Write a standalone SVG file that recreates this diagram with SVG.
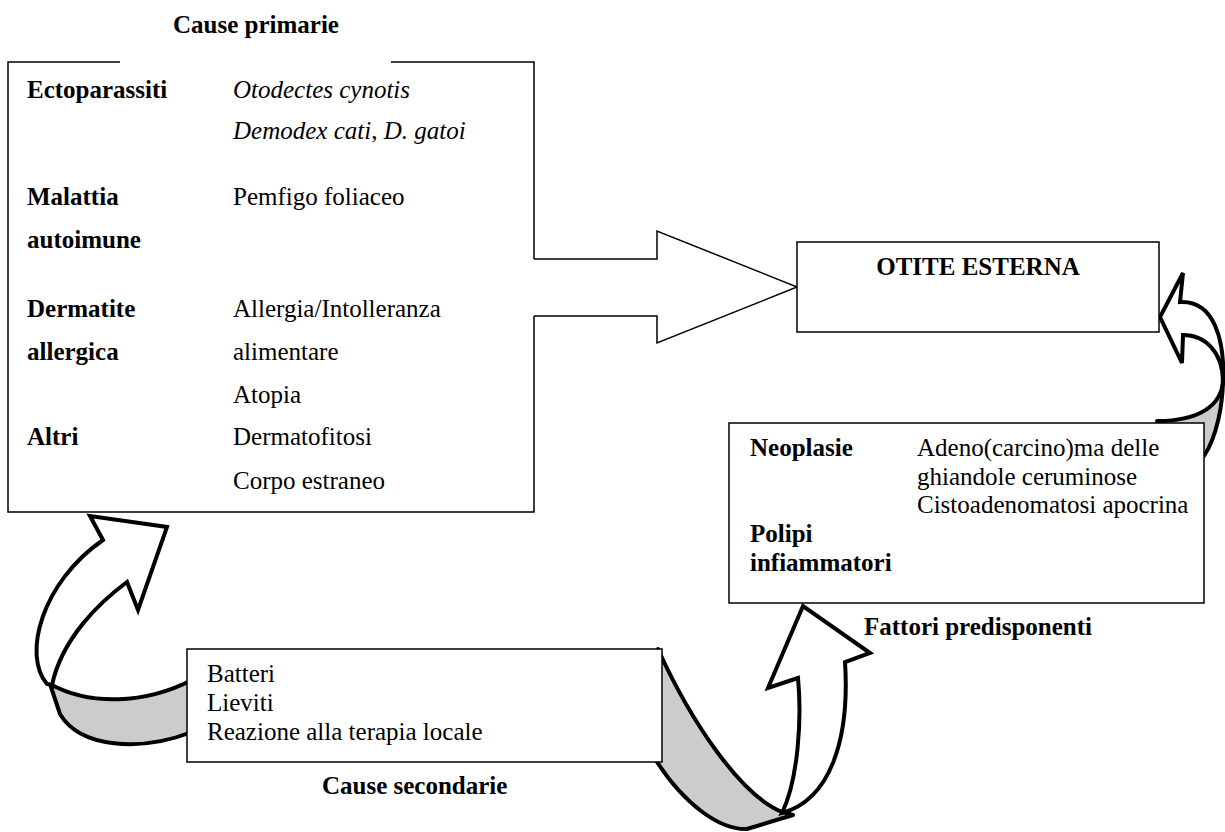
<svg xmlns="http://www.w3.org/2000/svg" width="1225" height="832" viewBox="0 0 1225 832">
<style>
text{font-family:"Liberation Serif","Times New Roman",serif;font-size:25px;fill:#000}
.b{font-weight:bold}
.i{font-style:italic}
.box{fill:#fff;stroke:#000;stroke-width:1.5}
.line{fill:none;stroke:#000;stroke-width:1.5}
.band{fill:#cccccc;stroke:#000;stroke-width:4;stroke-linejoin:round}
.body{fill:#fff;stroke:#000;stroke-width:4;stroke-linejoin:miter}
.edge{fill:none;stroke:#000;stroke-width:4;stroke-linecap:round}
</style>
<rect width="1225" height="832" fill="#fff"/>
<g id="connectors">
  <!-- big block arrow primary -> otite -->
  <path class="line" d="M534,259 L657,259 L657,231 L797,287 L657,343 L657,316 L534,316"/>
  <!-- secondary -> primary curved arrow -->
  <path class="band" d="M50,684 C90,706 145,704 192,680 L192,732 C140,752 80,748 60,714 Z"/>
  <path class="body" d="M103,540 L90,516 L167,527 L138,610 L127,582 C100,602 62,638 52,685 L47,684 C22,655 42,582 103,540 Z"/>
  <!-- secondary -> predisponenti curved arrow -->
  <path class="band" d="M658,649 C690,720 740,795 782,812 L793,815 L747,829 C720,830 685,805 657,762 Z"/>
  <path class="body" d="M798,678 L768,688 L803,606 L870,653 L845,662 C850,740 830,800 782,813 C798,780 802,720 798,678 Z"/>
  <!-- predisponenti -> otite curved arrow -->
  <path d="M1223,382 C1223,410 1216,438 1204,456 L1160,456 L1160,421 C1200,421 1222,408 1223,382 Z" fill="#cccccc"/>
  <path class="body" d="M1180,302 L1183,273 L1160,317 L1182,363 L1183,335 C1205,335 1223,352 1223,382 C1225,340 1214,300 1180,302 Z"/>
  <path class="edge" d="M1223,370 C1224,405 1216,438 1204,456"/>
  <path class="edge" d="M1223,380 C1222,405 1200,421 1157,421"/>
</g>
<g id="cause-primarie">
  <path class="line" d="M120,62 L8,62 L8,512 L534,512 L534,316 M534,259 L534,62 L391,62"/>
  <text class="b" x="173" y="33">Cause primarie</text>
  <text class="b" x="27" y="98">Ectoparassiti</text>
  <text class="i" x="233" y="98">Otodectes cynotis</text>
  <text x="233" y="139"><tspan class="i">Demodex cati</tspan>, <tspan class="i">D. gatoi</tspan></text>
  <text class="b" x="27" y="205">Malattia</text>
  <text x="233" y="205">Pemfigo foliaceo</text>
  <text class="b" x="27" y="248">autoimune</text>
  <text class="b" x="27" y="317">Dermatite</text>
  <text x="233" y="317">Allergia/Intolleranza</text>
  <text class="b" x="27" y="360">allergica</text>
  <text x="233" y="360">alimentare</text>
  <text x="233" y="403">Atopia</text>
  <text class="b" x="27" y="445">Altri</text>
  <text x="233" y="445">Dermatofitosi</text>
  <text x="233" y="489">Corpo estraneo</text>
</g>
<g id="otite-esterna">
  <rect class="box" x="797" y="242" width="362" height="90"/>
  <text class="b" x="978" y="275" text-anchor="middle">OTITE ESTERNA</text>
</g>
<g id="fattori-predisponenti">
  <rect class="box" x="729" y="423" width="475" height="180"/>
  <text class="b" x="750" y="456">Neoplasie</text>
  <text x="917" y="456">Adeno(carcino)ma delle</text>
  <text x="917" y="485">ghiandole ceruminose</text>
  <text x="917" y="513">Cistoadenomatosi apocrina</text>
  <text class="b" x="750" y="542">Polipi</text>
  <text class="b" x="750" y="571">infiammatori</text>
  <text class="b" x="864" y="635">Fattori predisponenti</text>
</g>
<g id="cause-secondarie">
  <rect class="box" x="187" y="649" width="475" height="113"/>
  <text x="207" y="682">Batteri</text>
  <text x="207" y="711">Lieviti</text>
  <text x="207" y="740">Reazione alla terapia locale</text>
  <text class="b" x="322" y="794">Cause secondarie</text>
</g>
</svg>
